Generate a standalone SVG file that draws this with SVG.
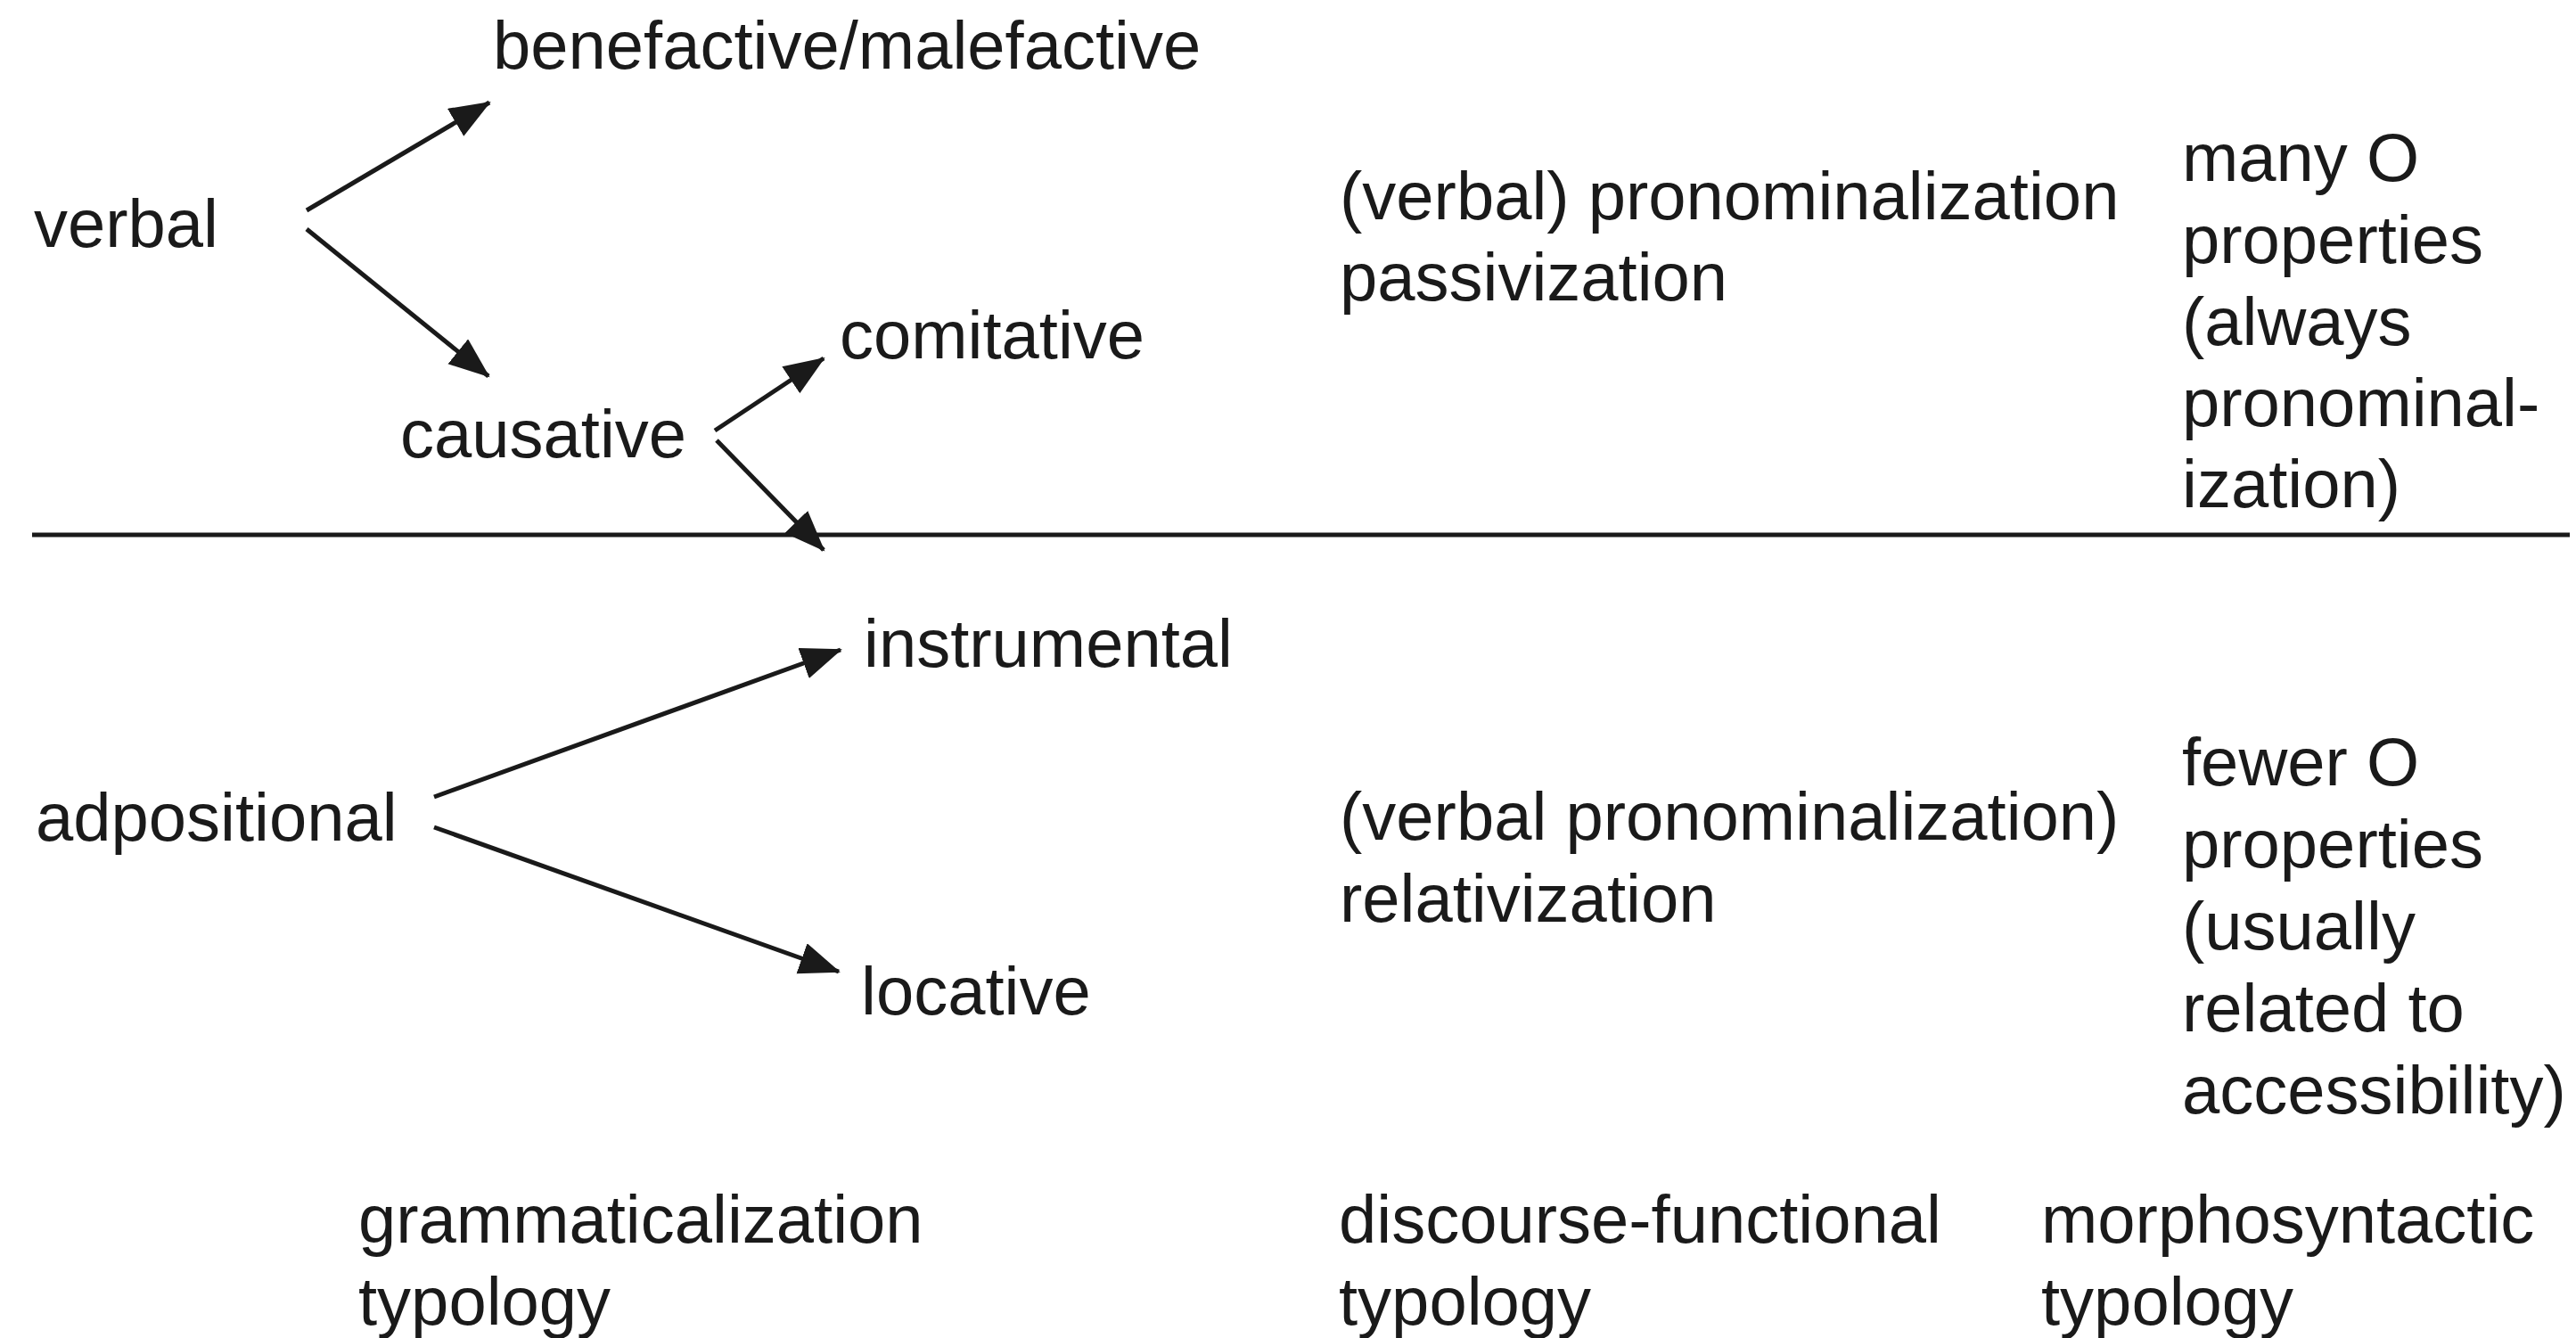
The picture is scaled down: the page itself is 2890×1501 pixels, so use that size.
<svg xmlns="http://www.w3.org/2000/svg" width="2890" height="1501" viewBox="0 0 2890 1501">
<style>
text{font-family:"Liberation Sans",Arial,sans-serif;font-size:76px;fill:#1a1a1a}
.c{stroke:#1a1a1a;stroke-width:5;fill:none}
</style>
<defs>
<marker id="ah" markerUnits="userSpaceOnUse" markerWidth="50" markerHeight="40" refX="44" refY="18" orient="auto">
<path d="M0,0 L46,18 L0,36 z" fill="#1a1a1a"/>
</marker>
</defs>
<rect width="2890" height="1501" fill="#fff"/>
<g id="connectors">
<line class="c" x1="36" y1="600" x2="2883" y2="600"/>
<line class="c" x1="344" y1="236" x2="549" y2="115" marker-end="url(#ah)"/>
<line class="c" x1="344" y1="257" x2="548" y2="422" marker-end="url(#ah)"/>
<line class="c" x1="802" y1="483" x2="924" y2="402" marker-end="url(#ah)"/>
<line class="c" x1="804" y1="494" x2="924" y2="617" marker-end="url(#ah)"/>
<line class="c" x1="487" y1="894" x2="943" y2="729" marker-end="url(#ah)"/>
<line class="c" x1="487" y1="928" x2="941" y2="1090" marker-end="url(#ah)"/>
</g>
<g id="verbal"><text x="38" y="277">verbal</text></g>
<g id="benefactive"><text x="553" y="77">benefactive/malefactive</text></g>
<g id="causative"><text x="449" y="513">causative</text></g>
<g id="comitative"><text x="942" y="402">comitative</text></g>
<g id="adpositional"><text x="40" y="943">adpositional</text></g>
<g id="instrumental"><text x="969" y="748">instrumental</text></g>
<g id="locative"><text x="966" y="1138">locative</text></g>
<g id="discourse-top"><text x="1503" y="246">(verbal) pronominalization</text><text x="1503" y="337">passivization</text></g>
<g id="morph-top"><text x="2448" y="203">many O</text><text x="2448" y="295">properties</text><text x="2448" y="387">(always</text><text x="2448" y="478">pronominal-</text><text x="2448" y="569">ization)</text></g>
<g id="discourse-bottom"><text x="1503" y="942">(verbal pronominalization)</text><text x="1503" y="1034">relativization</text></g>
<g id="morph-bottom"><text x="2448" y="881">fewer O</text><text x="2448" y="973">properties</text><text x="2448" y="1065">(usually</text><text x="2448" y="1157">related to</text><text x="2448" y="1249">accessibility)</text></g>
<g id="label-gram"><text x="402" y="1394">grammaticalization</text><text x="402" y="1486">typology</text></g>
<g id="label-disc"><text x="1502" y="1394">discourse-functional</text><text x="1502" y="1486">typology</text></g>
<g id="label-morph"><text x="2290" y="1394">morphosyntactic</text><text x="2290" y="1486">typology</text></g>
</svg>
